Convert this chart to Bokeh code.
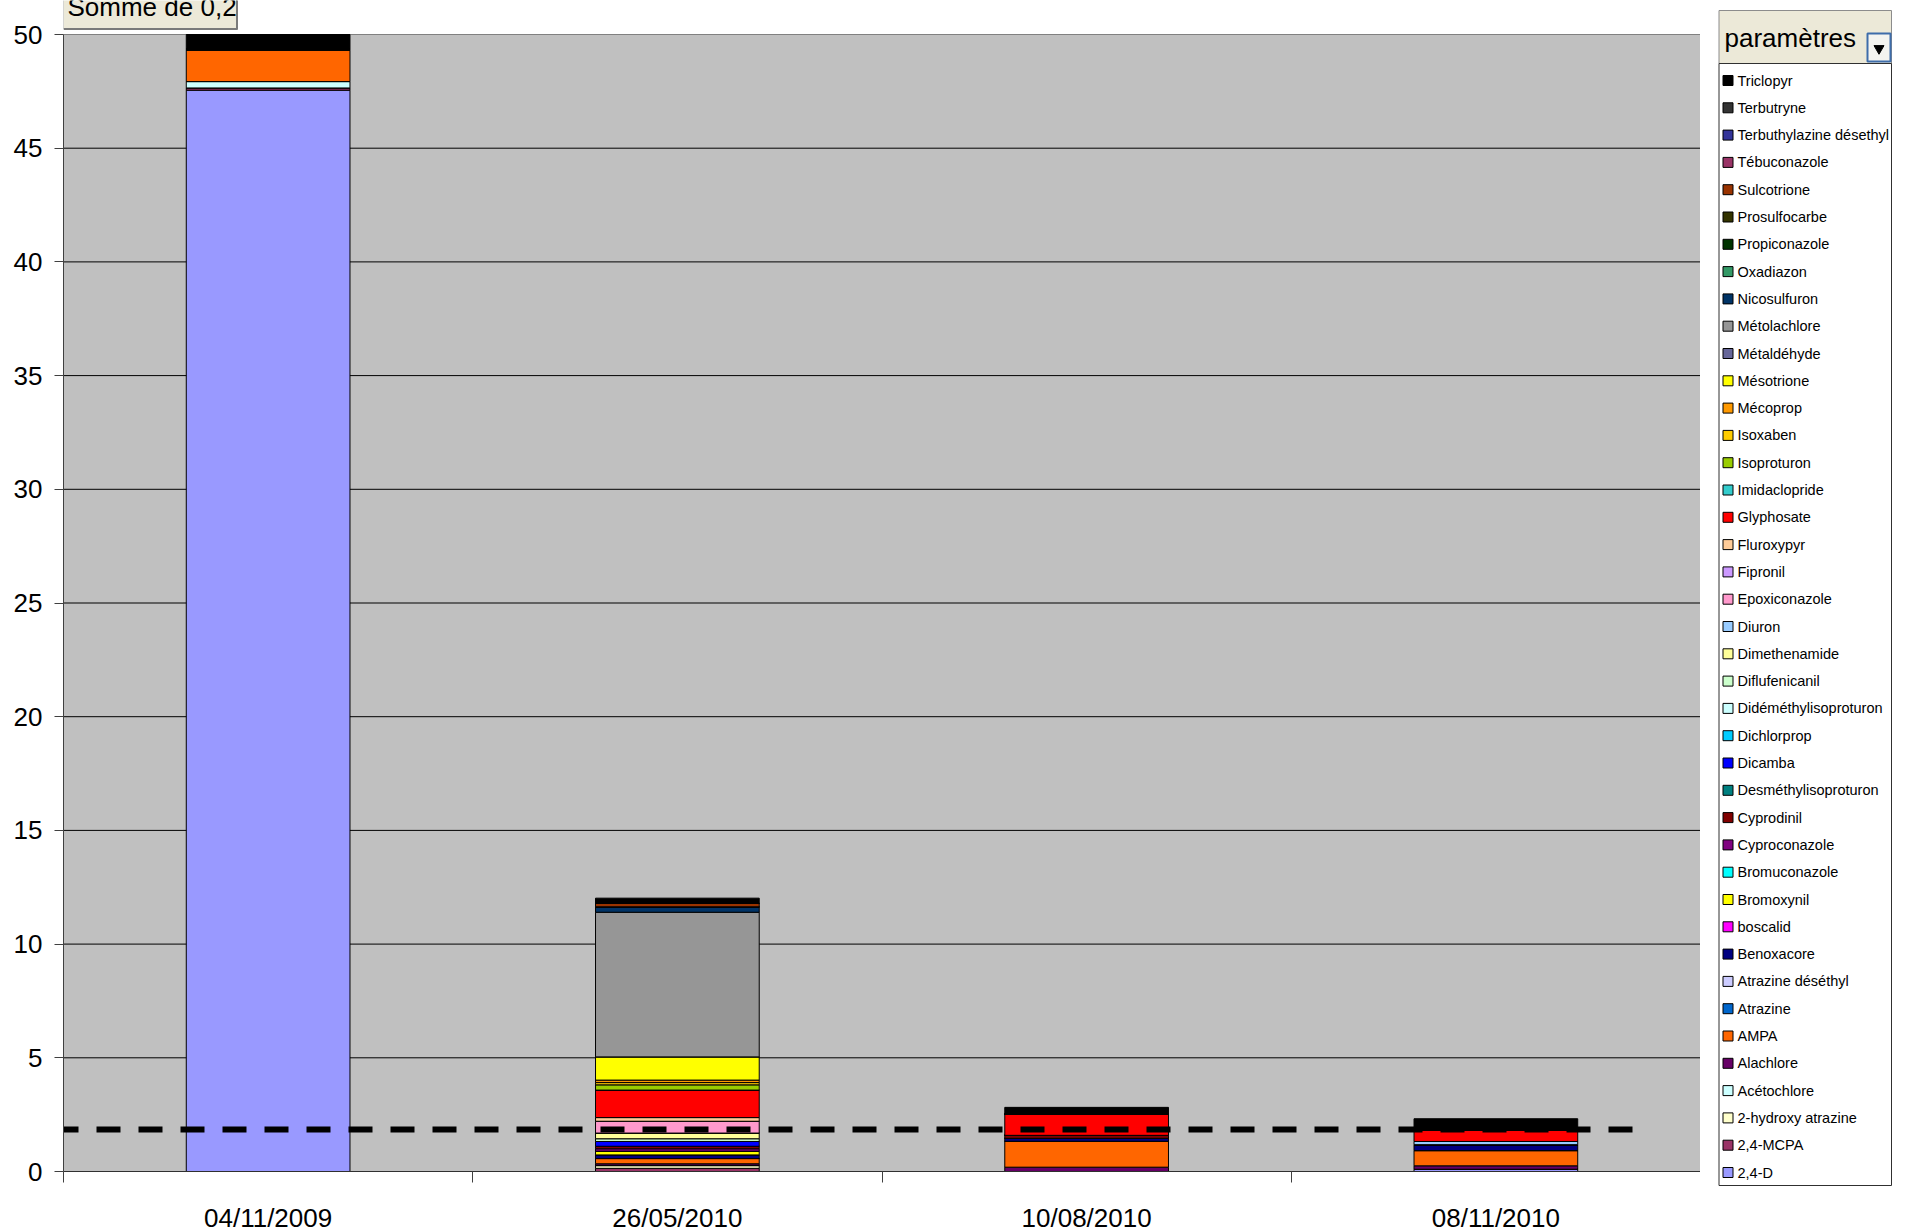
from bokeh.plotting import figure
from bokeh.layouts import row
from bokeh.models import Range1d, ColumnDataSource, FixedTicker, LinearAxis
from bokeh.core.properties import value
from bokeh.embed import file_html
from bokeh.resources import INLINE

# ---- data -----------------------------------------------------------------
DATES = ["04/11/2009", "26/05/2010", "10/08/2010", "08/11/2010"]

# stacking order, bottom to top (legend shows it reversed)
SERIES = [
    "2,4-D", "2,4-MCPA", "2-hydroxy atrazine", "Acétochlore", "Alachlore",
    "AMPA", "Atrazine", "Atrazine déséthyl", "Benoxacore", "boscalid",
    "Bromoxynil", "Bromuconazole", "Cyproconazole", "Cyprodinil",
    "Desméthylisoproturon", "Dicamba", "Dichlorprop", "Didéméthylisoproturon",
    "Diflufenicanil", "Dimethenamide", "Diuron", "Epoxiconazole", "Fipronil",
    "Fluroxypyr", "Glyphosate", "Imidaclopride", "Isoproturon", "Isoxaben",
    "Mécoprop", "Mésotrione", "Métaldéhyde", "Métolachlore", "Nicosulfuron",
    "Oxadiazon", "Propiconazole", "Prosulfocarbe", "Sulcotrione",
    "Tébuconazole", "Terbuthylazine désethyl", "Terbutryne", "Triclopyr",
]

COLORS = [
    "#9999FF", "#993366", "#FFFFCC", "#CCFFFF", "#660066",
    "#FF6600", "#0066CC", "#CCCCFF", "#000080", "#FF00FF",
    "#FFFF00", "#00FFFF", "#800080", "#800000",
    "#008080", "#0000FF", "#00CCFF", "#CCFFFF",
    "#CCFFCC", "#FFFF99", "#99CCFF", "#FF99CC", "#CC99FF",
    "#FFCC99", "#FF0000", "#33CCCC", "#99CC00", "#FFCC00",
    "#FF9900", "#FFFF00", "#666699", "#969696", "#003366",
    "#339966", "#003300", "#333300", "#993300",
    "#993366", "#333399", "#333333", "#000000",
]

# measured concentrations per sampling date (absent compounds = 0)
VALUES_04_11_2009 = {
    "2,4-D": 47.55, "2,4-MCPA": 0.10, "Acétochlore": 0.28, "AMPA": 1.38,
    "Prosulfocarbe": 0.05, "Triclopyr": 0.64,
}
VALUES_26_05_2010 = {
    "2,4-MCPA": 0.14, "2-hydroxy atrazine": 0.12, "Alachlore": 0.08,
    "AMPA": 0.23, "Benoxacore": 0.16, "Bromoxynil": 0.16,
    "Cyproconazole": 0.11, "Cyprodinil": 0.11, "Dicamba": 0.21,
    "Diflufenicanil": 0.12, "Dimethenamide": 0.25, "Epoxiconazole": 0.52,
    "Fluroxypyr": 0.16, "Glyphosate": 1.21, "Isoproturon": 0.23,
    "Isoxaben": 0.10, "Mécoprop": 0.11, "Mésotrione": 1.02,
    "Métolachlore": 6.36, "Nicosulfuron": 0.24, "Sulcotrione": 0.15,
    "Triclopyr": 0.23,
}
VALUES_10_08_2010 = {
    "Alachlore": 0.19, "AMPA": 1.14, "Benoxacore": 0.13, "Cyprodinil": 0.13,
    "Glyphosate": 0.93, "Triclopyr": 0.30,
}
VALUES_08_11_2010 = {
    "2,4-D": 0.10, "Alachlore": 0.15, "AMPA": 0.67, "Benoxacore": 0.26,
    "Diuron": 0.14, "Glyphosate": 0.50, "Triclopyr": 0.50,
}
VALUES_BY_DATE = [VALUES_04_11_2009, VALUES_26_05_2010,
                  VALUES_10_08_2010, VALUES_08_11_2010]

Y_TICKS = list(range(0, 55, 5))
THRESHOLD = 1.85          # dashed reference level

# ---- page geometry (pixels) -------------------------------------------------
CANVAS_W, CANVAS_H = 1906, 1232
PLOT_L, PLOT_R = 63, 1700      # plot area left/right edge
PLOT_T, PLOT_B = 34, 1171      # plot area top/bottom edge

n = len(DATES)
y_max = Y_TICKS[-1]
y_end = y_max * PLOT_B / (PLOT_B - PLOT_T)

AXIS_FONT = "Liberation Sans"

# ============================ chart ==========================================
p = figure(
    width=PLOT_R, height=CANVAS_H,
    frame_width=PLOT_R - PLOT_L, frame_height=PLOT_B,
    x_range=Range1d(0, n), y_range=Range1d(0, y_end),
    x_axis_type=None, y_axis_type=None,
    output_backend="svg", toolbar_location=None,
    min_border_left=PLOT_L, min_border_right=0,
    min_border_top=0, min_border_bottom=CANVAS_H - PLOT_B,
)
p.outline_line_color = None
p.background_fill_color = "white"
p.border_fill_color = "white"
# pixel-space ranges for decorations
p.extra_x_ranges = {"px": Range1d(PLOT_L, PLOT_R)}
p.extra_y_ranges = {"py": Range1d(PLOT_B, 0)}

yaxis = LinearAxis(
    ticker=FixedTicker(ticks=Y_TICKS, minor_ticks=[]),
    bounds=(0, y_max),
    axis_line_color="#404040", major_tick_line_color="#404040",
    major_tick_out=9, major_tick_in=0,
    major_label_standoff=12,
    major_label_text_font=AXIS_FONT, major_label_text_font_size="26px",
    major_label_text_color="black",
)
p.add_layout(yaxis, "left")

xaxis = LinearAxis(
    ticker=FixedTicker(ticks=[i + 0.5 for i in range(n)],
                       minor_ticks=list(range(n + 1))),
    bounds=(0, n),
    major_label_overrides={i + 0.5: d for i, d in enumerate(DATES)},
    axis_line_color="#303030",
    major_tick_line_color=None, major_tick_out=0, major_tick_in=0,
    minor_tick_line_color="#404040", minor_tick_out=11, minor_tick_in=0,
    major_label_standoff=20,
    major_label_text_font=AXIS_FONT, major_label_text_font_size="26px",
    major_label_text_color="black",
)
p.add_layout(xaxis, "below")

# plot area and horizontal grid
p.quad(left=0, right=n, bottom=0, top=y_max,
       fill_color="#C0C0C0", line_color="#808080", line_width=1, level="image")
inner = Y_TICKS[1:-1]
p.segment(x0=[0] * len(inner), x1=[n] * len(inner), y0=inner, y1=inner,
          line_color="black", line_width=1, level="underlay")

# stacked bars
data = {"x": [i + 0.5 for i in range(n)]}
for s in SERIES:
    data[s] = [vals.get(s, 0.0) for vals in VALUES_BY_DATE]
src = ColumnDataSource(data)
p.vbar_stack(SERIES, x="x", width=0.4, source=src,
             fill_color=COLORS, line_color="black", line_width=1)

# dashed reference level
p.segment(x0=[54], x1=[1633], y0=[THRESHOLD], y1=[THRESHOLD],
          x_range_name="px", line_color="black", line_width=6,
          line_dash="24 18", line_cap="butt")

# data-field button, top left (partly above the page edge)
p.quad(left=[PLOT_L], right=[236], top=[-40], bottom=[28],
       x_range_name="px", y_range_name="py",
       fill_color="#ECE9D8", line_color="#B0B0B0", line_width=1)
p.segment(x0=[PLOT_L, 236.5], x1=[237, 236.5], y0=[28.5, -40], y1=[28.5, 29],
          x_range_name="px", y_range_name="py",
          line_color="#7A7A7A", line_width=2)
p.text(x=[67], y=[6], text=["Somme de 0,2"],
       x_range_name="px", y_range_name="py",
       text_font=value(AXIS_FONT), text_font_size="26px",
       text_color="black", text_baseline="middle", text_align="left")

# ============================ legend =========================================
LG_W = CANVAS_W - PLOT_R
lg = figure(
    width=LG_W, height=CANVAS_H, frame_width=LG_W, frame_height=CANVAS_H,
    x_range=Range1d(PLOT_R, CANVAS_W), y_range=Range1d(CANVAS_H, 0),
    x_axis_type=None, y_axis_type=None,
    output_backend="svg", toolbar_location=None,
    min_border_left=0, min_border_right=0, min_border_top=0, min_border_bottom=0,
)
lg.outline_line_color = None
lg.background_fill_color = "white"
lg.border_fill_color = "white"

LG_L, LG_R = 1718.5, 1891
lg.quad(left=[LG_L], right=[LG_R], top=[10], bottom=[63],
        fill_color="#ECE9D8", line_color="#8C8C8C", line_width=1)
lg.text(x=[1724], y=[37], text=["paramètres"],
        text_font=value(AXIS_FONT), text_font_size="26px",
        text_color="black", text_baseline="middle", text_align="left")
lg.quad(left=[1867], right=[1890], top=[33], bottom=[61],
        fill_color="#F4F4F0", line_color="#3E6DAA", line_width=2)
lg.scatter(x=[1878.5], y=[48], marker="inverted_triangle", size=10,
           fill_color="black", line_color="black")

lg.quad(left=[LG_L], right=[LG_R], top=[63], bottom=[1185],
        fill_color="white", line_color="#303030", line_width=1)

legend_names = SERIES[::-1]
legend_colors = COLORS[::-1]
row_y = [80 + i * 27.3 for i in range(len(legend_names))]
lg.scatter(x=[1727.5] * len(legend_names), y=row_y, marker="square", size=10,
           fill_color=legend_colors, line_color="black", line_width=1)
lg.text(x=[1737] * len(legend_names), y=row_y, text=legend_names,
        text_font=value(AXIS_FONT), text_font_size="14.5px",
        text_color="black", text_baseline="middle", text_align="left")

layout = row(p, lg, spacing=0)
open("out.html", "w").write(file_html(layout, INLINE))
